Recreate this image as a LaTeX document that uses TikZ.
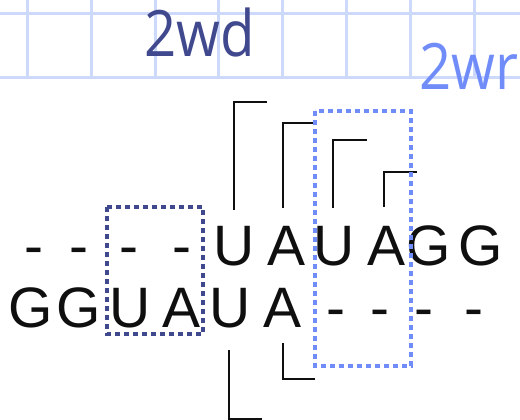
\documentclass[tikz,border=0pt]{standalone}
\usepackage{fontspec}
\setmainfont{Liberation Sans}
\newfontfamily\labelfont[FakeStretch=0.88]{Open Sans}
\definecolor{gridblue}{RGB}{204,217,250}
\definecolor{darkbox}{RGB}{64,72,142}
\definecolor{lightbox}{RGB}{112,140,248}
\definecolor{inkc}{RGB}{15,15,15}
\tikzset{
  base/.style={anchor=base, inner sep=0pt, outer sep=0pt, text=inkc,
    font=\fontsize{57}{57}\selectfont},
  bracketline/.style={draw=inkc, line width=1.8pt},
  dotbox/.style={line width=4.6pt, dash pattern=on 5pt off 4pt},
  gridline/.style={draw=gridblue, line width=3pt},
  tag/.style={anchor=base west, inner sep=0pt, font=\labelfont\fontsize{64}{64}\selectfont}
}
\begin{document}
\begin{tikzpicture}[x=1pt, y=-1pt]
\useasboundingbox (0,0) rectangle (520,420);
% header grid
\foreach \gx in {27,91,155,218,282,346,410,474}
  \draw[gridline] (\gx,0) -- (\gx,78);
\foreach \gy in {14,78}
  \draw[gridline] (0,\gy) -- (520,\gy);
% labels
\node[tag, text=darkbox] (wd) at (144,57) {2wd};
\node[tag, text=lightbox] (wr) at (419,89) {2wr};
% upper strand
\foreach \cx/\ch [count=\i] in {34/-,79/-,129/-,182/-,234/U,287/A,334/U,387/A,429/G,481/G}
  \node[base] (t\i) at (\cx,265) {\ch};
% lower strand
\foreach \cx/\ch [count=\i] in {31/G,79/G,130/U,182/A,230/U,283/A,336/-,380/-,424/-,474/-}
  \node[base] (b\i) at (\cx,327) {\ch};
% stacking brackets above
\draw[bracketline] (234,210) -- (234,102) -- (267,102);
\draw[bracketline] (283,208) -- (283,123) -- (313,123);
\draw[bracketline] (333,208) -- (333,140) -- (367,140);
\draw[bracketline] (384,207) -- (384,172) -- (417,172);
% stacking brackets below
\draw[bracketline] (229,350) -- (229,419) -- (262,419);
\draw[bracketline] (283,343) -- (283,379) -- (315,379);
% motif boxes
\draw[dotbox, draw=darkbox] (107,207) rectangle (203,334);
\draw[dotbox, draw=lightbox] (315,111) rectangle (411,366);
\end{tikzpicture}
\end{document}
